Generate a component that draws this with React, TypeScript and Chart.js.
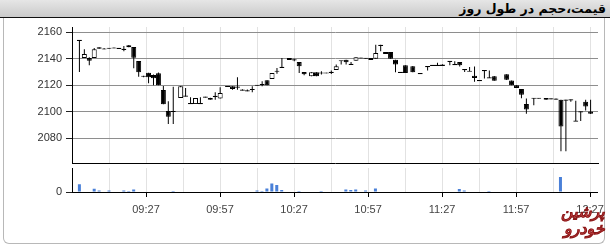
import React, { useEffect, useRef } from "react";
import { Chart, registerables } from "chart.js";

Chart.register(...registerables);

const title = "قیمت،حجم در طول روز";
const logoTop = "پرشین";
const logoBottom = "خودرو";

const times = [
  "09:00","09:02","09:04","09:06","09:08","09:10","09:12","09:14","09:16","09:18",
  "09:20","09:22","09:24","09:26","09:28","09:30","09:32","09:34","09:36","09:38",
  "09:41","09:43","09:45","09:47","09:49","09:51","09:53","09:55","09:57","10:00",
  "10:02","10:04","10:06","10:08","10:10","10:12","10:14","10:16","10:18","10:20",
  "10:22","10:25","10:27","10:29","10:31","10:34","10:36","10:38","10:40","10:42",
  "10:44","10:46","10:48","10:50","10:52","10:54","10:56","10:58","11:00","11:02",
  "11:04","11:06","11:08","11:10","11:12","11:15","11:18","11:21","11:23","11:25",
  "11:27","11:30","11:32","11:34","11:36","11:38","11:40","11:42","11:44","11:46",
  "11:48","11:53","11:55","11:57","11:59","12:01","12:04","12:06","12:09","12:11",
  "12:13","12:15","12:17","12:19","12:21","12:23","12:25","12:27"
];

const opens = [
  2154,2140.5,2140.5,2140.5,2148.5,2147.5,2147.8,2148,2147.8,2147,
  2150,2148.7,2138.2,2127,2129.4,2127.7,2129,2116.4,2100.6,2100.5,
  2110.4,2112,2106.2,2105.8,2106.2,2111,2110.4,2111.6,2110,2119.2,
  2119.2,2118.6,2116.5,2115.8,2116.8,2120,2120.5,2123.7,2124.7,2130.5,
  2133.5,2140.5,2139,2137.4,2130,2126.7,2129.7,2129.2,2129.2,2129.7,
  2131.5,2138.5,2139.2,2136,2138.5,2140.5,2140.3,2140.5,2140,2150.5,
  2145,2145,2139.2,2129.7,2135,2134.2,2128.8,2134,2135,2135,
  2135.5,2138,2135.5,2137.4,2131.7,2130.5,2127.2,2123.4,2131,2125.5,
  2126.7,2128.3,2123.5,2120,2117.1,2105.8,2110.2,2110.2,2110.4,2109.8,
  2109.5,2109.1,2108.8,2109,2093,2100,2107.5,2100.3
];

const highs = [
  2154,2147,2141,2148,2148.5,2148,2148,2148.3,2148,2149.5,
  2150.3,2148.7,2138.2,2127.2,2129.4,2128,2129.5,2119.4,2108,2118.9,
  2119.5,2118,2111,2110.4,2111,2111.3,2110.5,2114.8,2118.4,2119.4,
  2119.2,2126,2117,2116.8,2119.2,2120.2,2123,2123.7,2129.2,2133,
  2140.5,2140.5,2140,2137.4,2130,2129.7,2129.7,2130.5,2129.4,2131,
  2135.5,2138.5,2139.2,2137.5,2141,2140.7,2140.5,2140.5,2150.5,2150.5,
  2145,2145,2139.2,2130,2135,2134.5,2129,2134.2,2135.2,2137,
  2135.7,2138.2,2138,2137.4,2132,2133.7,2134,2123.6,2131.2,2131,
  2127,2128.3,2123.5,2120,2117.1,2110,2110.4,2110.4,2110.4,2110,
  2110,2109.1,2109,2109.2,2108.4,2100.3,2109,2109
];

const lows = [
  2130,2140.5,2135,2140.5,2147.5,2147,2147.5,2147.8,2147.5,2145.5,
  2148.5,2132.7,2126.4,2126,2121.4,2120,2120,2105.6,2090.8,2090.8,
  2110.4,2111.5,2106,2105.8,2106,2110.8,2109,2109,2110,2119,
  2116.6,2116.6,2116,2115.4,2114.7,2119.8,2119.2,2120,2124.7,2128.7,
  2133,2139,2138,2129.2,2127.5,2126.7,2126.7,2128,2129,2128.5,
  2131.5,2135.5,2135.5,2135.5,2138.5,2140.3,2140,2139,2140,2145.5,
  2143.5,2140,2129.7,2129.5,2129.2,2129.7,2128.5,2131,2134.8,2135,
  2134.5,2135,2135.5,2134,2130,2130.5,2122.7,2123.2,2125,2125.4,
  2123.4,2124,2120,2118,2110.2,2098.5,2104.9,2110,2109,2109.5,
  2109.3,2070.3,2070.3,2107.5,2093,2093,2101,2098.3
];

const closes = [
  2153.5,2143.5,2138.5,2147,2147.5,2147,2147.8,2148,2147.6,2147,
  2148.5,2140.7,2129.7,2126.5,2126,2125.2,2120,2105.6,2096.3,2100,
  2119.2,2111.7,2106,2110.4,2106,2111,2109,2111.6,2114.2,2119.2,
  2117.1,2118.6,2116,2115.6,2116.8,2120,2120.5,2120,2129.2,2130.5,
  2133.5,2139,2139,2134.2,2128.2,2129.7,2126.7,2129.2,2129.2,2129.7,
  2134.2,2138.3,2137.2,2135.5,2141,2140.5,2140.3,2139,2144.2,2149.5,
  2143.5,2140,2135.5,2129.7,2129.2,2129.7,2128.6,2134,2135,2135,
  2134.5,2138,2135.5,2135,2131.7,2130.5,2125.4,2123.4,2131,2125.5,
  2123.4,2124.1,2120,2118,2112.9,2101.7,2110.2,2110.2,2109,2109.8,
  2109.5,2089,2108.8,2109,2093,2100,2104,2098.5
];

const volumes = [
  32,0,0,14,6,0,6,0,0,6,
  4,10,0,0,0,0,0,0,0,4,
  0,0,0,0,0,0,0,0,0,0,
  0,0,0,0,0,6,4,15,35,29,
  8,0,0,4,0,0,0,4,0,0,
  0,0,10,8,10,0,6,0,15,0,
  0,0,0,0,0,0,0,0,0,0,
  0,0,0,12,6,0,0,0,0,4,
  0,0,0,0,0,0,0,0,0,0,
  0,62,0,0,0,0,0,0
];

const priceTicks = [2080, 2100, 2120, 2140, 2160];
const priceMin = 2061.5;
const priceMax = 2163.8;
const volumeMax = 100;
const axisStart = "08:57";
const axisEnd = "12:30";
const gridStepMin = 15;
const labelStepMin = 30;

const toMin = (s: string) => {
  const [h, m] = s.split(":").map(Number);
  return h * 60 + m;
};
const fmt = (v: number) => {
  const h = Math.floor(v / 60);
  const m = v % 60;
  return String(h).padStart(2, "0") + ":" + String(m).padStart(2, "0");
};

const xMin = toMin(axisStart);
const xMax = toMin(axisEnd);
const xTickValues: number[] = [];
for (let v = xMin; v <= xMax; v += gridStepMin) xTickValues.push(v);
const isLabeled = (v: number) => v !== xMin && (v - xMin) % labelStepMin === 0;

const FONT = "'Liberation Sans', Arial, sans-serif";
const LEFT_W = 72;
const RIGHT_PAD = 12;

function baseX(showTicks: boolean) {
  return {
    type: "linear" as const,
    min: xMin,
    max: xMax,
    offset: false,
    afterBuildTicks: (scale: any) => {
      scale.ticks = xTickValues.map((v) => ({ value: v }));
    },
    afterFit: (scale: any) => {
      scale.height = showTicks ? 30 : 0;
    },
    grid: {
      offset: false,
      color: "#e2e2e2",
      lineWidth: 1,
      drawTicks: showTicks,
      tickLength: 5,
      tickColor: (ctx: any) =>
        ctx.tick && isLabeled(ctx.tick.value) ? "#000" : "rgba(0,0,0,0)",
    },
    border: { display: true, color: "#000", width: 1 },
    ticks: {
      display: showTicks,
      autoSkip: false,
      maxRotation: 0,
      padding: 6,
      color: "#444",
      font: { family: FONT, size: 11 },
      callback: (v: any) => (isLabeled(Number(v)) ? fmt(Number(v)) : ""),
    },
  };
}

export default function App() {
  const priceRef = useRef<HTMLCanvasElement>(null);
  const volRef = useRef<HTMLCanvasElement>(null);

  useEffect(() => {
    const xs = times.map(toMin);
    const wicks = xs.map((x, i) => ({ x, y: [lows[i], highs[i]] }));
    const bodies = xs.map((x, i) => {
      let lo = Math.min(opens[i], closes[i]);
      let hi = Math.max(opens[i], closes[i]);
      if (hi - lo < 0.9) {
        const mid = (hi + lo) / 2;
        lo = mid - 0.45;
        hi = mid + 0.45;
      }
      return { x, y: [lo, hi] };
    });
    const bodyColors = xs.map((_, i) => (closes[i] > opens[i] ? "#fff" : "#000"));

    const priceChart = new Chart(priceRef.current!, {
      type: "bar",
      data: {
        datasets: [
          {
            data: bodies as any,
            backgroundColor: bodyColors,
            borderColor: "#000",
            borderWidth: 1,
            borderSkipped: false,
            barThickness: 5,
            grouped: false,
            inflateAmount: 0,
            order: 0,
          } as any,
          {
            data: wicks as any,
            backgroundColor: "#000",
            borderWidth: 0,
            barThickness: 1,
            grouped: false,
            inflateAmount: 0,
            order: 1,
          } as any,
        ],
      },
      options: {
        animation: false,
        responsive: false,
        events: [],
        layout: { padding: { top: 27, bottom: 82, left: 0, right: RIGHT_PAD } },
        plugins: { legend: { display: false }, tooltip: { enabled: false }, title: { display: false } },
        scales: {
          x: baseX(false) as any,
          y: {
            type: "linear",
            min: priceMin,
            max: priceMax,
            beginAtZero: false,
            afterBuildTicks: (scale: any) => {
              scale.ticks = priceTicks.map((v) => ({ value: v }));
            },
            afterFit: (scale: any) => {
              scale.width = LEFT_W;
            },
            grid: { color: "#8e8e8e", lineWidth: 1, tickLength: 6, tickColor: "#222" },
            border: { display: true, color: "#000", width: 1 },
            ticks: {
              padding: 4,
              color: "#333",
              font: { family: FONT, size: 11 },
              callback: (v: any) => String(v),
            },
          },
        },
      },
    });

    const volChart = new Chart(volRef.current!, {
      type: "bar",
      data: {
        datasets: [
          {
            data: xs.map((x, i) => ({ x, y: volumes[i] })) as any,
            backgroundColor: "#4a80d8",
            borderWidth: 0,
            barThickness: 3,
            grouped: false,
            inflateAmount: 0,
          } as any,
        ],
      },
      options: {
        animation: false,
        responsive: false,
        events: [],
        layout: { padding: { top: 168, bottom: 23, left: 0, right: RIGHT_PAD } },
        plugins: { legend: { display: false }, tooltip: { enabled: false }, title: { display: false } },
        scales: {
          x: baseX(true) as any,
          y: {
            type: "linear",
            min: 0,
            max: volumeMax,
            afterBuildTicks: (scale: any) => {
              scale.ticks = [{ value: 0 }];
            },
            afterFit: (scale: any) => {
              scale.width = LEFT_W;
            },
            grid: { color: "rgba(0,0,0,0)", tickLength: 6, tickColor: "#222" },
            border: { display: true, color: "#000", width: 1 },
            ticks: {
              padding: 4,
              color: "#333",
              font: { family: FONT, size: 11 },
              callback: (v: any) => String(v),
            },
          },
        },
      },
    });

    return () => {
      priceChart.destroy();
      volChart.destroy();
    };
  }, []);

  const canvasStyle: React.CSSProperties = { position: "absolute", left: 0, top: 0, display: "block" };
  const logoStyle: React.CSSProperties = {
    position: "absolute", fontFamily: "'DejaVu Sans', sans-serif", fontWeight: "bold",
    fontStyle: "italic", fontSize: 16, color: "#e2555a", WebkitTextStroke: "0.5px #8a1a1a",
    direction: "rtl", lineHeight: "16px", whiteSpace: "nowrap",
  };

  return (
    <div style={{ position: "fixed", left: 0, top: 0, width: 610, height: 245, background: "#fff", overflow: "hidden" }}>
      <div
        style={{
          position: "absolute", left: 0, top: 0, width: 610, height: 17,
          background: "linear-gradient(#e6e6e6, #cacaca)", borderBottom: "1px solid #111", boxSizing: "content-box",
        }}
      />
      <div
        style={{
          position: "absolute", right: 4, top: 0, height: 17, lineHeight: "17px",
          fontFamily: "'DejaVu Sans', sans-serif", fontWeight: "bold", fontSize: 12.5, color: "#000",
          direction: "rtl", whiteSpace: "nowrap",
        }}
      >
        {title}
      </div>
      <div
        style={{
          position: "absolute", left: 3, top: 18, width: 602, height: 226, boxSizing: "border-box",
          border: "1px solid #b8b8b8", borderTop: "none", borderRadius: "0 0 6px 6px",
        }}
      />
      <canvas ref={priceRef} width={610} height={245} style={canvasStyle} />
      <canvas ref={volRef} width={610} height={245} style={canvasStyle} />
      <div style={{ ...logoStyle, left: 561, top: 204 }}>{logoTop}</div>
      <div style={{ ...logoStyle, left: 564, top: 221 }}>{logoBottom}</div>
    </div>
  );
}
